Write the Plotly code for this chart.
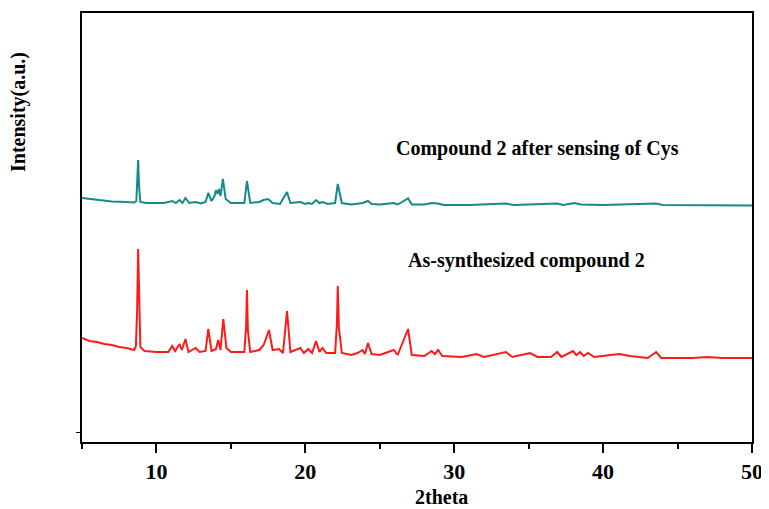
import plotly.graph_objects as go

# 2theta positions and intensities (a.u.)
red_x = [5.0, 5.5, 6.0, 6.5, 7.0, 7.5, 8.0, 8.5, 8.62, 8.7, 8.77, 8.84, 8.92, 9.2, 10.0, 10.8,
         11.06, 11.25, 11.55, 11.7, 11.95, 12.15, 12.63, 12.9, 13.3, 13.48, 13.7,
         14.0, 14.15, 14.3, 14.49, 14.7, 15.0, 15.9, 16.02, 16.08, 16.14, 16.3, 16.9, 17.2, 17.56,
         17.8, 18.23, 18.5, 18.77, 19.0, 19.67, 19.9, 20.2, 20.45, 20.72, 20.95,
         21.15, 21.4, 22.0, 22.12, 22.18, 22.25, 22.45, 23.1, 23.5, 23.84, 24.0, 24.21, 24.45,
         25.0, 25.94, 26.2, 26.9, 27.15, 28.0, 28.48, 28.7, 28.92, 29.2, 30.5,
         31.5, 32.0, 33.47, 33.9, 35.09, 35.6, 36.5, 36.92, 37.2, 37.98, 38.2,
         38.45, 38.7, 38.99, 39.4, 40.5, 41.1, 41.8, 43.0, 43.56, 43.9, 46.0,
         47.0, 48.0, 50.0]
red_y = [104, 101, 100, 98, 97, 95, 94, 92, 96, 130, 193, 125, 95, 91, 90, 90,
         96, 91, 98, 92, 103, 90, 94, 90, 91, 113, 91,
         93, 102, 92, 123, 94, 90, 90, 115, 152, 112, 90, 92, 97, 112,
         92, 93, 89, 131, 90, 94, 89, 93, 89, 101, 90,
         94, 89, 89, 118, 156, 115, 89, 87, 89, 92, 88, 99, 88,
         87, 92, 87, 113, 87, 86, 91, 88, 92, 86, 85,
         88, 85, 90, 85, 89, 85, 85, 90, 85, 91, 87,
         90, 86, 89, 85, 87, 88, 86, 84, 90, 84, 84,
         85, 84, 84]

teal_x = [5.0, 5.5, 6.0, 6.5, 7.0, 8.0, 8.5, 8.65, 8.71, 8.77, 8.83, 8.92, 9.3, 10.5, 11.06,
          11.3, 11.55, 11.75, 11.95, 12.2, 12.63, 13.0, 13.3, 13.48, 13.7, 13.9,
          14.0, 14.1, 14.2, 14.3, 14.46, 14.65, 15.0, 15.6, 15.9, 16.08, 16.3,
          16.9, 17.2, 17.5, 17.8, 18.3, 18.77, 19.0, 19.67, 20.0, 20.2, 20.45,
          20.72, 20.95, 21.15, 21.5, 22.0, 22.18, 22.45, 23.1, 23.84, 24.21,
          24.45, 25.0, 25.94, 26.2, 26.9, 27.15, 28.0, 28.48, 28.9, 29.3, 31.0,
          33.47, 34.0, 36.92, 37.3, 38.1, 38.5, 40.0, 43.56, 44.0, 47.0, 50.0]
teal_y = [244, 243, 242, 241, 240.5, 240, 239.5, 241, 258, 282, 256, 240, 239, 239, 241,
          239, 242, 239, 244, 239, 240, 238.5, 240, 249, 241, 246,
          252, 248, 253, 246, 263, 243, 239, 238.5, 239, 261, 239,
          240, 242, 243, 239, 238, 250, 239, 240, 238, 239, 238,
          242, 239, 240, 238, 239, 258, 239, 237.5, 239, 241,
          238, 237.5, 239, 237.5, 243.7, 237.5, 237.5, 239, 238.5, 237, 237,
          238.5, 237, 238.5, 237, 239, 237.5, 237, 238.5, 237, 236.5, 236.5]

x_ticks = [10, 20, 30, 40, 50]
labels = ["Compound 2 after sensing of Cys", "As-synthesized compound 2"]

FONT = "Liberation Serif"
# the page body adds an 8px offset, so the figure is sized to fit inside it
OFF = 8
W, H = 769 - OFF, 509 - OFF
L, T = 82 - OFF, 13 - OFF
R, B = W - (752 - OFF), H - (442 - OFF)


def px(xp, yp):
    xp, yp = xp - OFF, yp - OFF
    return (xp - L) / (W - L - R), (H - yp - B) / (H - T - B)


fig = go.Figure()
fig.add_trace(go.Scatter(x=teal_x, y=teal_y, mode="lines",
                         line=dict(color="#168a8a", width=2), showlegend=False))
fig.add_trace(go.Scatter(x=red_x, y=red_y, mode="lines",
                         line=dict(color="#ff1a1a", width=2), showlegend=False))

ann = []
for text, (xp, yp), size, angle in [
    (labels[0], (537, 148), 20, 0),
    (labels[1], (526, 261), 20, 0),
    ("2theta", (441, 497), 20, 0),
    ("Intensity(a.u.)", (19, 112), 20, -90),
]:
    fx, fy = px(xp, yp)
    ann.append(dict(text=text, x=fx, y=fy, xref="paper", yref="paper",
                    xanchor="center", yanchor="middle", textangle=angle,
                    showarrow=False,
                    font=dict(family=FONT, size=size, weight="bold", color="black")))

fig.update_layout(
    width=W, height=H,
    margin=dict(l=L, r=R, t=T, b=B, autoexpand=False),
    plot_bgcolor="white", paper_bgcolor="white",
    font=dict(family=FONT, size=22, color="black"),
    xaxis=dict(range=[5, 50], tickvals=x_ticks, ticks="outside", ticklen=9,
               tickwidth=2, tickcolor="black", showline=True, linewidth=2,
               linecolor="black", mirror=True, showgrid=False, zeroline=False,
               automargin=False,
               tickfont=dict(family=FONT, size=22, weight="bold"),
               minor=dict(tickvals=[5, 15, 25, 35, 45], ticks="outside",
                          ticklen=5, tickwidth=2, tickcolor="black")),
    yaxis=dict(range=[0, 429], showticklabels=False, tickvals=[10],
               ticks="outside", ticklen=4, tickwidth=1, tickcolor="black",
               showline=True, linewidth=2, linecolor="black", mirror=True,
               showgrid=False, zeroline=False, automargin=False),
    annotations=ann,
)

fig.write_html("out.html")
